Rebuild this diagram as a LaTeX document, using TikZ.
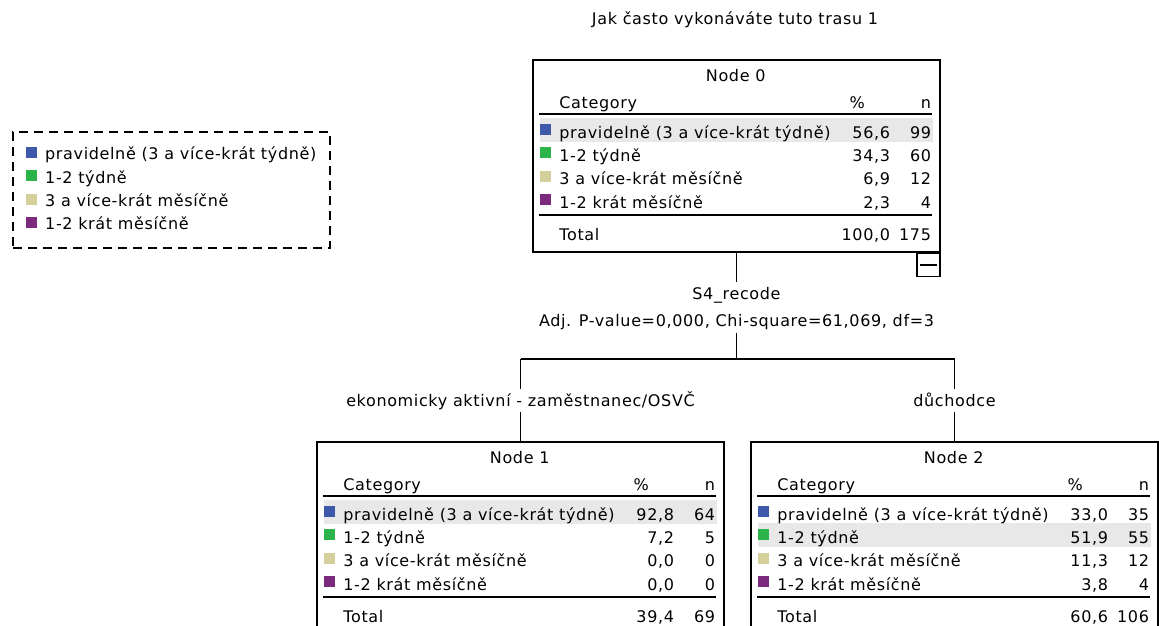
\documentclass[tikz,border=0pt]{standalone}
\usepackage{fontspec}
\setmainfont{DejaVu Sans}[LetterSpace=4.0]
\usetikzlibrary{positioning}

\definecolor{catblue}{RGB}{62,88,170}
\definecolor{catgreen}{RGB}{44,179,74}
\definecolor{cattan}{RGB}{212,207,155}
\definecolor{catpurple}{RGB}{123,42,126}
\definecolor{rowgray}{RGB}{232,232,232}

% one category row of a node table: box, id, y, colour, text, %, n
\newcommand{\catrow}[7]{%
  \node[swatch, fill=#4] (#2sq) at ([shift={(13.5,#3-3)}]#1.north west) {};
  \node[cell, anchor=west] (#2cat) at ([shift={(27,#3)}]#1.north west) {#5};
  \node[cell, anchor=east] (#2pct) at ([shift={(358,#3)}]#1.north west) {#6};
  \node[cell, anchor=east] (#2n) at ([shift={(399,#3)}]#1.north west) {#7};
}
% header, rules and total of a node table: box, title, %, n
\newcommand{\tableframe}[4]{%
  \node[cell] (#1title) at ([shift={(203.5,16.5)}]#1.north west) {#2};
  \node[cell, anchor=west] (#1hcat) at ([shift={(27,44)}]#1.north west) {Category};
  \node[cell] (#1hpct) at ([shift={(325,44)}]#1.north west) {\%};
  \node[cell, anchor=east] (#1hn) at ([shift={(399,44)}]#1.north west) {n};
  \draw[rule] ([shift={(7,55)}]#1.north west) -- ([shift={(400,55)}]#1.north west);
  \draw[rule] ([shift={(7,156)}]#1.north west) -- ([shift={(400,156)}]#1.north west);
  \node[cell, anchor=west] (#1tot) at ([shift={(27,176)}]#1.north west) {Total};
  \node[cell, anchor=east] (#1totpct) at ([shift={(358,176)}]#1.north west) {#3};
  \node[cell, anchor=east] (#1totn) at ([shift={(399,176)}]#1.north west) {#4};
}
% grey band behind the modal row: box, y
\newcommand{\modalrow}[2]{%
  \fill[rowgray] ([shift={(8,#2-15)}]#1.north west) rectangle ([shift={(401,#2+9)}]#1.north west);
}

\begin{document}
\begin{tikzpicture}[x=1pt,y=-1pt,
  cell/.style={inner sep=0pt, text height=11.5pt, text depth=0pt, font=\fontsize{16}{19}\selectfont},
  splitlabel/.style={cell, inner xsep=2pt, inner ysep=6pt},
  swatch/.style={inner sep=0pt, minimum size=11pt},
  rule/.style={line width=1.6pt},
  nodebox/.style={draw, line width=1.6pt, minimum width=407pt, minimum height=192pt, inner sep=0pt},
  togglebox/.style={draw, line width=1.6pt, minimum size=23pt, inner sep=0pt},
  legendbox/.style={draw, line width=1.6pt, dash pattern=on 9pt off 6pt, minimum width=317pt, minimum height=116pt, inner sep=0pt}]
\useasboundingbox (0,0) rectangle (1159,625);
\clip (0,0) rectangle (1159,625);

% legend
\node[legendbox] (legend) at (171.5,190) {};
\node[swatch, fill=catblue] (lg1sq) at (31,152) {};
\node[cell, anchor=west] (lg1) at (45,154) {pravidelně (3 a více-krát týdně)};
\node[swatch, fill=catgreen] (lg2sq) at (31,175.5) {};
\node[cell, anchor=west] (lg2) at (45,177.5) {1-2 týdně};
\node[swatch, fill=cattan] (lg3sq) at (31,199) {};
\node[cell, anchor=west] (lg3) at (45,201) {3 a více-krát měsíčně};
\node[swatch, fill=catpurple] (lg4sq) at (31,222) {};
\node[cell, anchor=west] (lg4) at (45,224) {1-2 krát měsíčně};

% tree
\node[cell] (title) at (735,19) {Jak často vykonáváte tuto trasu 1};
\node[nodebox] (n0) at (736.5,156) {};
\node[nodebox] (n1) at (520.5,538) {};
\node[nodebox] (n2) at (954.5,538) {};
\node[togglebox, anchor=north east] (n0tog) at (n0.south east) {};
\draw[line width=1.3pt] ([xshift=4pt]n0tog.west) -- ([xshift=-4pt]n0tog.east);

\node[splitlabel] (var) at (736.5,294) {S4\_recode};
\node[splitlabel, below=3pt of var] (stat) {Adj. P-value=0,000, Chi-square=61,069, df=3};
\coordinate (j0) at (736.5,359);
\coordinate (j1) at (520.5,359);
\coordinate (j2) at (954.5,359);
\node[splitlabel] (b1) at (520.5,400.5) {ekonomicky aktivní - zaměstnanec/OSVČ};
\node[splitlabel] (b2) at (954.5,400.5) {důchodce};

\path[draw,rule] (n0) -- (var);
\path[draw,rule] (stat) -- (j0);
\path[draw,rule] (j1) -- (j2);
\path[draw,rule] (j1) -- (b1);
\path[draw,rule] (b1) -- (n1);
\path[draw,rule] (j2) -- (b2);
\path[draw,rule] (b2) -- (n2);

% Node 0
\modalrow{n0}{73.5}
\tableframe{n0}{Node 0}{100,0}{175}
\catrow{n0}{n0r1}{73.5}{catblue}{pravidelně (3 a více-krát týdně)}{56,6}{99}
\catrow{n0}{n0r2}{96.5}{catgreen}{1-2 týdně}{34,3}{60}
\catrow{n0}{n0r3}{120}{cattan}{3 a více-krát měsíčně}{6,9}{12}
\catrow{n0}{n0r4}{143.5}{catpurple}{1-2 krát měsíčně}{2,3}{4}

% Node 1
\modalrow{n1}{73.5}
\tableframe{n1}{Node 1}{39,4}{69}
\catrow{n1}{n1r1}{73.5}{catblue}{pravidelně (3 a více-krát týdně)}{92,8}{64}
\catrow{n1}{n1r2}{96.5}{catgreen}{1-2 týdně}{7,2}{5}
\catrow{n1}{n1r3}{120}{cattan}{3 a více-krát měsíčně}{0,0}{0}
\catrow{n1}{n1r4}{143.5}{catpurple}{1-2 krát měsíčně}{0,0}{0}

% Node 2
\modalrow{n2}{96.5}
\tableframe{n2}{Node 2}{60,6}{106}
\catrow{n2}{n2r1}{73.5}{catblue}{pravidelně (3 a více-krát týdně)}{33,0}{35}
\catrow{n2}{n2r2}{96.5}{catgreen}{1-2 týdně}{51,9}{55}
\catrow{n2}{n2r3}{120}{cattan}{3 a více-krát měsíčně}{11,3}{12}
\catrow{n2}{n2r4}{143.5}{catpurple}{1-2 krát měsíčně}{3,8}{4}
\end{tikzpicture}
\end{document}
